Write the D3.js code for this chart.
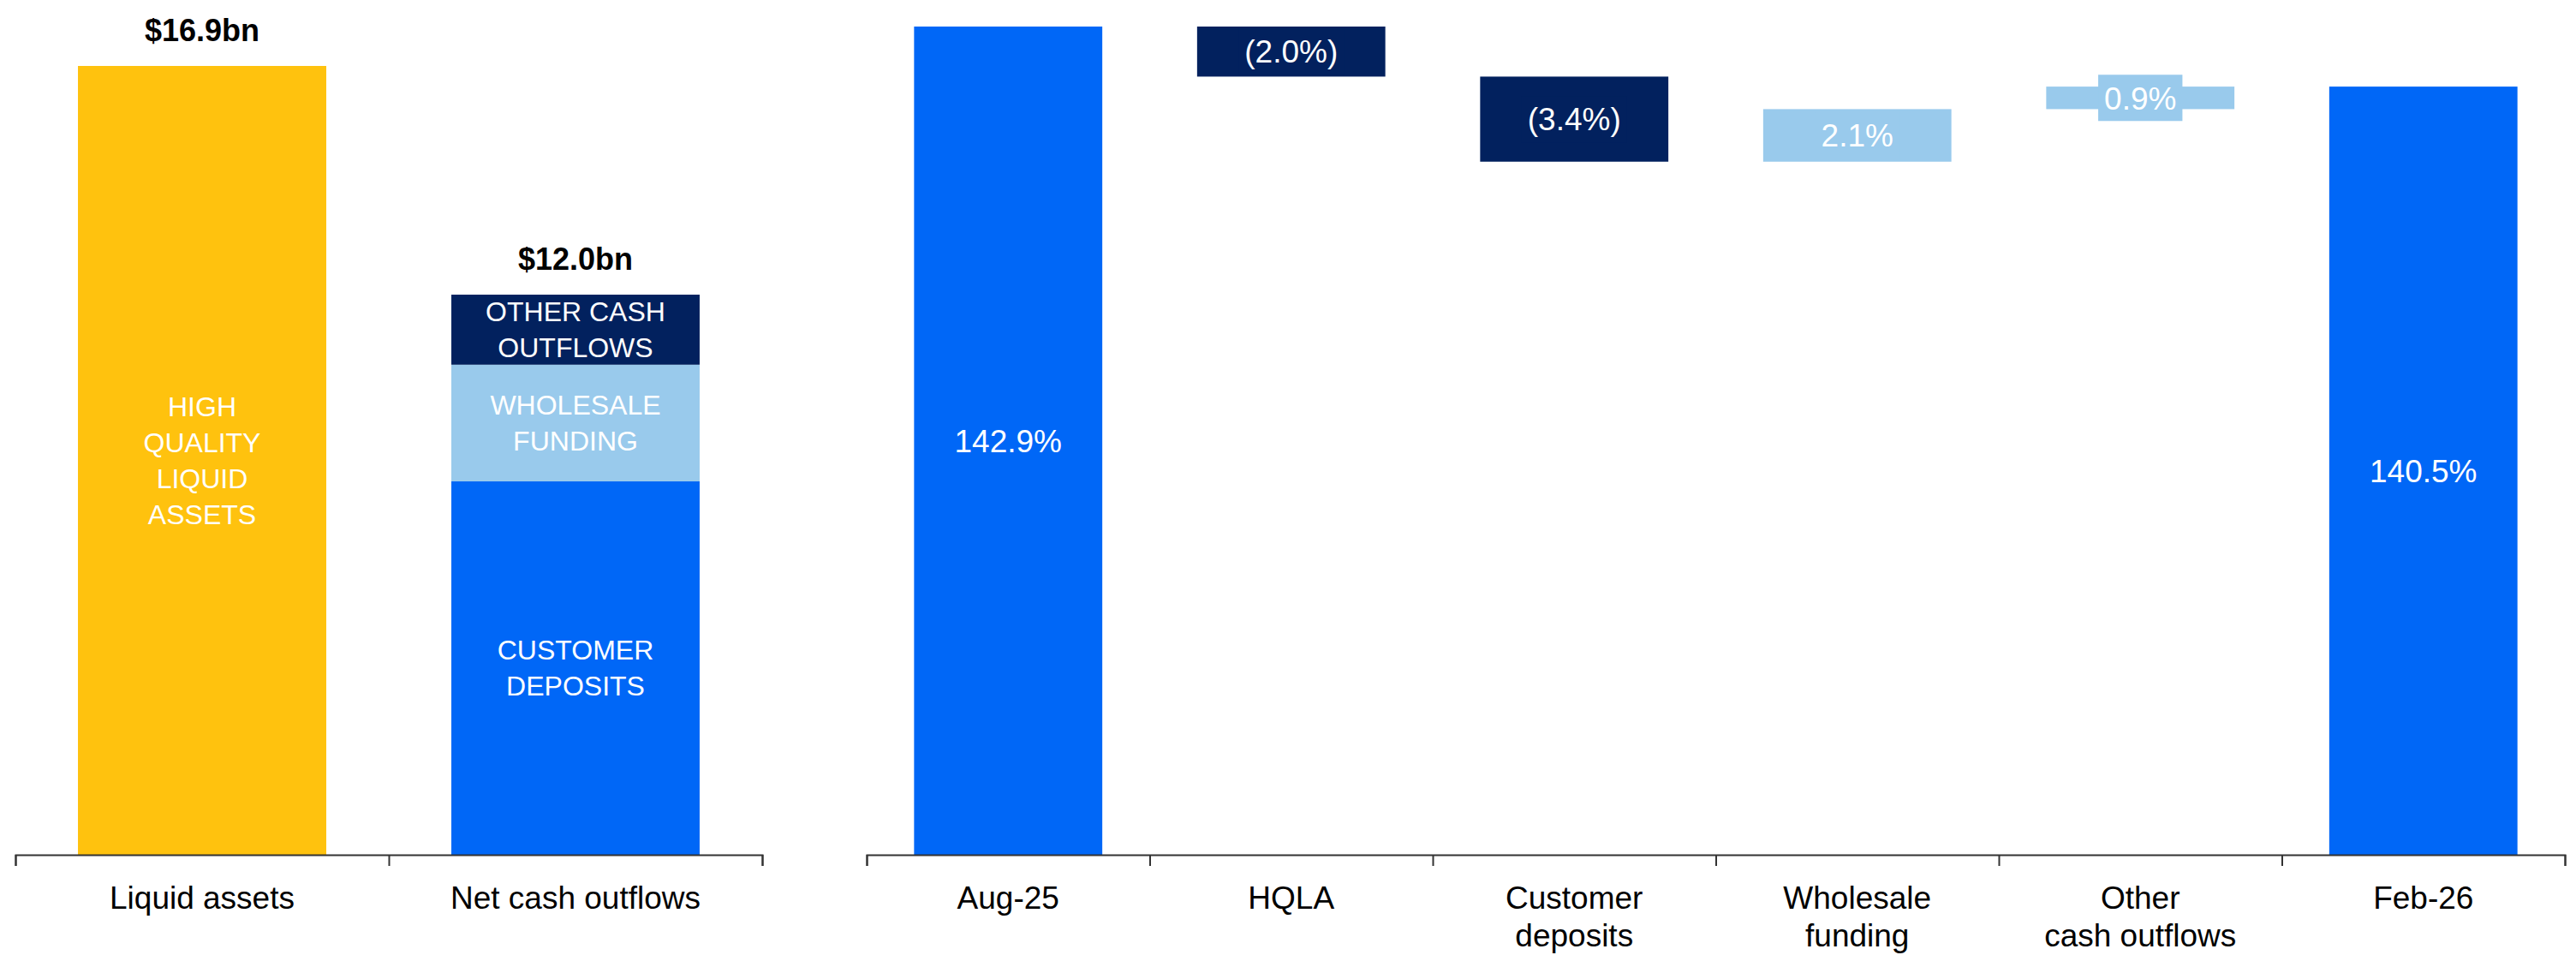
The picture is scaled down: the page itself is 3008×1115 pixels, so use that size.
<!DOCTYPE html>
<html>
<head>
<meta charset="utf-8">
<script src="https://cdn.jsdelivr.net/npm/d3@7"></script>
<style>
  body { margin: 0; background: #fff; }
  svg { display: block; }
  text { font-family: "Liberation Sans", Arial, Helvetica, sans-serif; }
</style>
</head>
<body>
<svg id="chart" width="3008" height="1115"></svg>
<script>
// ---- Liquidity composition ($bn) ----
const compCategories = ["Liquid assets", "Net cash outflows"];
const hqlaValues = [16.9];
const outflowSegments = ["Customer deposits", "Wholesale funding", "Other cash outflows"];
const outflowValues = [8.0, 2.5, 1.5];
const compTotalLabels = ["$16.9bn", "$12.0bn"];
const hqlaLabelLines = ["HIGH", "QUALITY", "LIQUID", "ASSETS"];
const outflowLabelLines = [["CUSTOMER", "DEPOSITS"], ["WHOLESALE", "FUNDING"], ["OTHER CASH", "OUTFLOWS"]];

// ---- LCR movement (%) ----
const lcrCategories = ["Aug-25", "HQLA", "Customer deposits", "Wholesale funding", "Other cash outflows", "Feb-26"];
const lcrTickLabels = [["Aug-25"], ["HQLA"], ["Customer", "deposits"], ["Wholesale", "funding"], ["Other", "cash outflows"], ["Feb-26"]];
const lcrKinds = ["total", "delta", "delta", "delta", "delta", "total"];
const lcrValues = [142.9, -2.0, -3.4, 2.1, 0.9, 140.5];

const COLORS = {
  hqla: "#FFC20E",
  "Customer deposits": "#0067F7",
  "Wholesale funding": "#99CAEC",
  "Other cash outflows": "#02215E",
  total: "#0067F7",
  down: "#02215E",
  up: "#99CAEC"
};

const svg = d3.select("#chart");
const BASE_Y = 998;
const catFont = 37, innerFont = 32, valueFont = 37;

function multiline(sel, lines, x, firstBaseline, lineH) {
  const t = sel.append("text").attr("x", x).attr("y", firstBaseline).attr("text-anchor", "middle");
  lines.forEach((ln, i) => t.append("tspan").attr("x", x).attr("y", firstBaseline + i * lineH).text(ln));
  return t;
}

// axis line with ticks on the category boundaries
function boundaryAxis(g, band, n) {
  const [r0, r1] = band.range();
  const lin = d3.scaleLinear().domain([0, n]).range([r0, r1]);
  const ax = g.append("g")
    .attr("transform", `translate(0,${BASE_Y})`)
    .call(d3.axisBottom(lin).tickValues(d3.range(n + 1)).tickSize(13).tickSizeOuter(13).tickFormat(""));
  ax.select(".domain").attr("stroke", "#333").attr("stroke-width", 2);
  ax.selectAll(".tick line").attr("stroke", "#333").attr("stroke-width", 2);
}

function categoryLabels(g, band, labels) {
  band.domain().forEach((c, i) => {
    multiline(g, labels[i], band(c) + band.bandwidth() / 2, 1061, 44)
      .attr("font-size", catFont).attr("fill", "#000");
  });
}

// ================= Left panel =================
const left = svg.append("g");
const x1 = d3.scaleBand().domain(compCategories).range([18, 890]).paddingInner(0.335).paddingOuter(0.1675);
const y1 = d3.scaleLinear().domain([0, 16.9]).range([BASE_Y, 77]);

// HQLA bar
left.append("rect")
  .attr("x", x1(compCategories[0])).attr("width", x1.bandwidth())
  .attr("y", y1(hqlaValues[0])).attr("height", y1(0) - y1(hqlaValues[0]))
  .attr("fill", COLORS.hqla);

{
  const cx = x1(compCategories[0]) + x1.bandwidth() / 2;
  const mid = (y1(hqlaValues[0]) + y1(0)) / 2;
  const lh = 42;
  multiline(left, hqlaLabelLines, cx, mid - (hqlaLabelLines.length - 1) * lh / 2 + innerFont * 0.358, lh)
    .attr("font-size", innerFont).attr("fill", "#fff");
}

// Net cash outflows stack
const row = {};
outflowSegments.forEach((s, i) => row[s] = outflowValues[i]);
const stacked = d3.stack().keys(outflowSegments)([row]);
stacked.forEach((layer, i) => {
  const d = layer[0];
  const xs = x1(compCategories[1]);
  left.append("rect")
    .attr("x", xs).attr("width", x1.bandwidth())
    .attr("y", y1(d[1])).attr("height", y1(d[0]) - y1(d[1]))
    .attr("fill", COLORS[layer.key]);
  const mid = (y1(d[0]) + y1(d[1])) / 2;
  const lines = outflowLabelLines[i];
  const lh = 42;
  multiline(left, lines, xs + x1.bandwidth() / 2, mid - (lines.length - 1) * lh / 2 + innerFont * 0.358, lh)
    .attr("font-size", innerFont).attr("fill", "#fff");
});

// Totals above bars
const compTotals = [hqlaValues[0], d3.sum(outflowValues)];
compCategories.forEach((c, i) => {
  left.append("text")
    .attr("x", x1(c) + x1.bandwidth() / 2).attr("y", y1(compTotals[i]) - 29)
    .attr("text-anchor", "middle").attr("font-size", 36).attr("font-weight", "bold").attr("fill", "#000")
    .text(compTotalLabels[i]);
});

boundaryAxis(left, x1, compCategories.length);
categoryLabels(left, x1, [["Liquid assets"], ["Net cash outflows"]]);

// ================= Right panel (waterfall) =================
const right = svg.append("g");
const x2 = d3.scaleBand().domain(lcrCategories).range([1012, 2995]).paddingInner(0.335).paddingOuter(0.1675);
const y2 = d3.scaleLinear().domain([109.8, 142.9]).range([BASE_Y, 31]);
const floor = y2.domain()[0];

let running = 0;
const steps = lcrCategories.map((c, i) => {
  const v = lcrValues[i];
  if (lcrKinds[i] === "total") {
    running = v;
    return { c, v, kind: "total", lo: floor, hi: v };
  }
  const start = running;
  running = start + v;
  return { c, v, kind: v < 0 ? "down" : "up", lo: Math.min(start, running), hi: Math.max(start, running) };
});

right.selectAll("rect.bar").data(steps).join("rect")
  .attr("class", "bar")
  .attr("x", d => x2(d.c)).attr("width", x2.bandwidth())
  .attr("y", d => y2(d.hi)).attr("height", d => y2(d.lo) - y2(d.hi))
  .attr("fill", d => COLORS[d.kind]);

const fmt = d => d.kind === "total" ? `${d.v.toFixed(1)}%`
  : d.v < 0 ? `(${Math.abs(d.v).toFixed(1)}%)` : `${d.v.toFixed(1)}%`;

steps.forEach(d => {
  const cx = x2(d.c) + x2.bandwidth() / 2;
  const mid = (y2(d.lo) + y2(d.hi)) / 2;
  const g = right.append("g");
  const t = g.append("text")
    .attr("x", cx).attr("y", mid + valueFont * 0.358)
    .attr("text-anchor", "middle").attr("font-size", valueFont).attr("fill", "#fff")
    .text(fmt(d));
  if (d.kind !== "total") {
    // label backing in the bar colour, so labels on thin bars stay readable
    const bb = t.node().getBBox();
    g.insert("rect", "text")
      .attr("x", bb.x - 7).attr("y", mid - 27)
      .attr("width", bb.width + 14).attr("height", 54)
      .attr("fill", COLORS[d.kind]);
  }
});

boundaryAxis(right, x2, lcrCategories.length);
categoryLabels(right, x2, lcrTickLabels);
</script>
</body>
</html>
